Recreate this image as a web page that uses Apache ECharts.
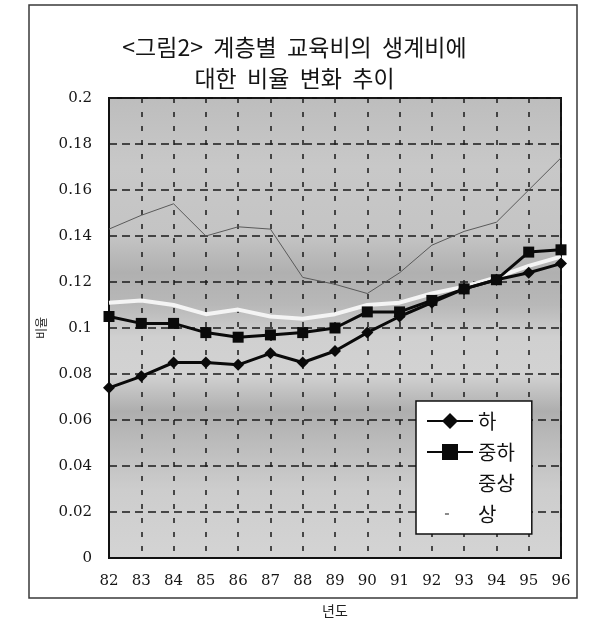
<!DOCTYPE html>
<html>
<head>
<meta charset="utf-8">
<script src="https://cdn.jsdelivr.net/npm/echarts@6/dist/echarts.min.js"></script>
<style>
  html, body { margin: 0; padding: 0; background: #ffffff; }
  #chart { width: 589px; height: 630px; }
</style>
</head>
<body>
<div id="chart"></div>
<script>
// Years (x categories)
var years = ['82', '83', '84', '85', '86', '87', '88', '89', '90', '91', '92', '93', '94', '95', '96'];

// Education spending as a share of living expenses, by income class
var seriesHa       = [0.074, 0.079, 0.085, 0.085, 0.084, 0.089, 0.085, 0.090, 0.098, 0.105, 0.111, 0.117, 0.121, 0.124, 0.128];
var seriesJungHa   = [0.105, 0.102, 0.102, 0.098, 0.096, 0.097, 0.098, 0.100, 0.107, 0.107, 0.112, 0.117, 0.121, 0.133, 0.134];
var seriesJungSang = [0.111, 0.112, 0.110, 0.106, 0.108, 0.105, 0.104, 0.106, 0.110, 0.111, 0.115, 0.118, 0.122, 0.127, 0.131];
var seriesSang     = [0.143, 0.149, 0.154, 0.140, 0.144, 0.143, 0.122, 0.119, 0.115, 0.124, 0.136, 0.142, 0.146, 0.160, 0.174];

var seriesNames = ['하', '중하', '중상', '상'];

// Y axis tick labels
var yTicks = [0, 0.02, 0.04, 0.06, 0.08, 0.1, 0.12, 0.14, 0.16, 0.18, 0.2];
var yTickLabels = ['0', '0.02', '0.04', '0.06', '0.08', '0.1', '0.12', '0.14', '0.16', '0.18', '0.2'];

var titleText = '<그림2>  계층별  교육비의  생계비에\n대한  비율  변화  추이';

var chart = echarts.init(document.getElementById('chart'), null, { renderer: 'canvas' });

function yLabel(v) {
  for (var i = 0; i < yTicks.length; i++) {
    if (Math.abs(yTicks[i] - v) < 1e-6) return yTickLabels[i];
  }
  return '';
}

var numFont = 'DejaVu Serif';
var krFont = 'Noto Sans CJK KR';

var option = {
  backgroundColor: '#ffffff',
  animation: false,
  title: {
    text: titleText,
    left: 'center',
    top: 27,
    textStyle: {
      fontFamily: krFont,
      fontSize: 23,
      fontWeight: 'normal',
      color: '#151515',
      lineHeight: 31
    }
  },
  graphic: [{
    type: 'rect',
    shape: { x: 29, y: 5, width: 548, height: 593 },
    style: { fill: 'none', stroke: '#3a3a3a', lineWidth: 1.5 },
    silent: true,
    z: -1
  }],
  grid: {
    left: 109,
    right: 28,
    top: 98,
    bottom: 72,
    show: true,
    borderColor: '#111',
    borderWidth: 2,
    backgroundColor: new echarts.graphic.LinearGradient(0, 0, 0, 1, [
      { offset: 0.00, color: '#bdbdbd' },
      { offset: 0.15, color: '#c8c8c8' },
      { offset: 0.30, color: '#c4c4c4' },
      { offset: 0.38, color: '#b0b0b0' },
      { offset: 0.45, color: '#b8b8b8' },
      { offset: 0.52, color: '#d0d0d0' },
      { offset: 0.60, color: '#d2d2d2' },
      { offset: 0.68, color: '#aeaeae' },
      { offset: 0.74, color: '#bababa' },
      { offset: 0.85, color: '#cdcdcd' },
      { offset: 1.00, color: '#d4d4d4' }
    ])
  },
  legend: {
    data: [
      { name: '하' },
      { name: '중하' },
      { name: '중상', icon: 'rect', itemStyle: { color: '#ffffff' } },
      { name: '상', icon: 'path://M0,9h0.1v0.1zM18,9h4v2h-4zM46,11h0.1v0.1z', itemStyle: { color: '#8a8a8a' } }
    ],
    orient: 'vertical',
    left: 416,
    top: 401,
    backgroundColor: '#ffffff',
    borderColor: '#111',
    borderWidth: 1.5,
    padding: [10, 17, 10, 10],
    itemWidth: 46,
    itemHeight: 20,
    itemGap: 11,
    itemStyle: { borderWidth: 0 },
    textStyle: {
      fontFamily: krFont,
      fontSize: 20,
      color: '#111',
      lineHeight: 20
    }
  },
  xAxis: {
    type: 'category',
    data: years,
    boundaryGap: false,
    name: '년도',
    nameLocation: 'middle',
    nameGap: 46,
    nameTextStyle: { fontFamily: krFont, fontSize: 14, color: '#222' },
    axisLine: { lineStyle: { color: '#111', width: 2 } },
    axisTick: { show: false },
    axisLabel: { fontFamily: numFont, fontSize: 15, color: '#151515', margin: 16 },
    splitLine: {
      show: true,
      lineStyle: { color: '#1a1a1a', width: 1.5, type: [5, 9] }
    }
  },
  yAxis: {
    type: 'value',
    min: 0,
    max: 0.2,
    interval: 0.02,
    name: '비율',
    nameLocation: 'middle',
    nameRotate: 90,
    nameGap: 62,
    nameTextStyle: { fontFamily: krFont, fontSize: 12, color: '#222' },
    axisLine: { show: true, lineStyle: { color: '#111', width: 2 } },
    axisTick: { show: false },
    axisLabel: {
      fontFamily: numFont,
      fontSize: 15,
      color: '#151515',
      margin: 17,
      formatter: yLabel
    },
    splitLine: {
      show: true,
      lineStyle: { color: '#1a1a1a', width: 1.5, type: [8, 5] }
    }
  },
  series: [
    {
      name: '상',
      type: 'line',
      data: seriesSang,
      symbol: 'none',
      lineStyle: { color: '#5a5a5a', width: 1 },
      itemStyle: { color: '#5a5a5a' },
      z: 2
    },
    {
      name: '중상',
      type: 'line',
      data: seriesJungSang,
      symbol: 'none',
      lineStyle: { color: '#f4f4f4', width: 4 },
      itemStyle: { color: '#ffffff' },
      z: 3
    },
    {
      name: '중하',
      type: 'line',
      data: seriesJungHa,
      symbol: 'rect',
      symbolSize: 11,
      lineStyle: { color: '#0a0a0a', width: 3 },
      itemStyle: { color: '#0a0a0a' },
      z: 4
    },
    {
      name: '하',
      type: 'line',
      data: seriesHa,
      symbol: 'diamond',
      symbolSize: 12,
      lineStyle: { color: '#0a0a0a', width: 3 },
      itemStyle: { color: '#0a0a0a' },
      z: 5
    }
  ]
};

chart.setOption(option);
</script>
</body>
</html>
